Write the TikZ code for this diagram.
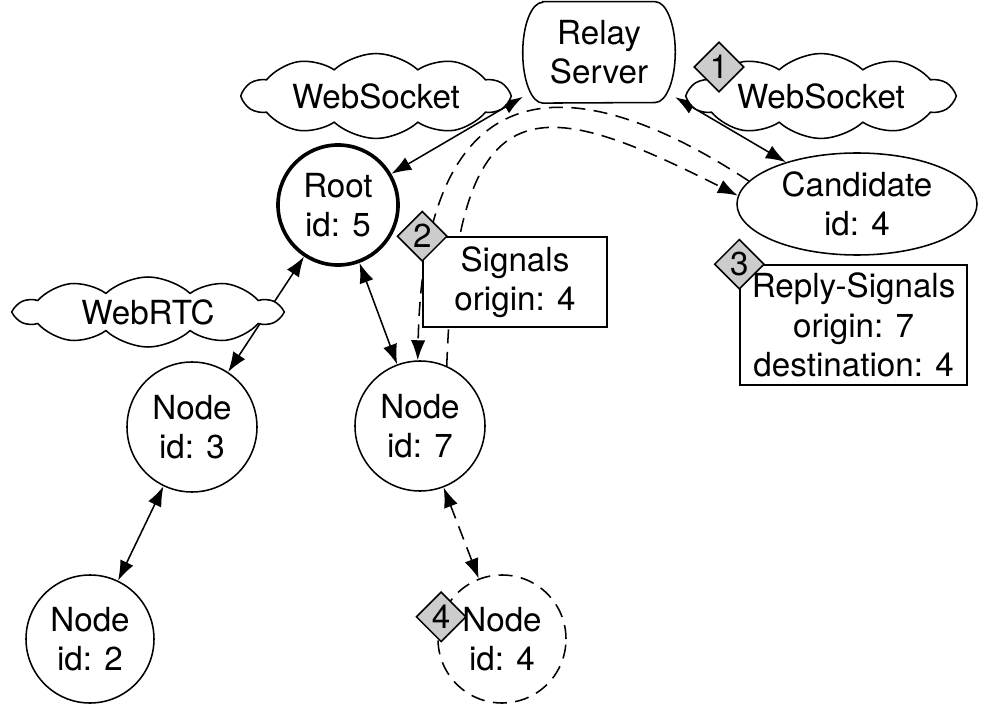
\documentclass[tikz,border=0pt]{standalone}
\usepackage{fontspec}
\setmainfont{TeX Gyre Heros}
\usetikzlibrary{positioning, arrows.meta, shapes.geometric, shapes.symbols}

\begin{document}
\begin{tikzpicture}[
  txt/.style={font=\fontsize{23.6}{28}\selectfont, align=center},
  peer/.style={circle, draw=black, line width=1.1pt, minimum size=3.25cm,
               inner sep=0pt, txt},
  rootpeer/.style={peer, line width=2.6pt, minimum size=3cm},
  newpeer/.style={peer, dashed, dash pattern=on 10pt off 6pt},
  relaybox/.style={rectangle, minimum width=3.8cm, minimum height=2.52cm,
                   inner sep=2pt, txt},
  relayedge/.style={line width=1.1pt},
  candpeer/.style={ellipse, draw=black, line width=1.1pt, minimum width=6cm,
                   minimum height=2.55cm, inner sep=0pt, txt},
  channel/.style={cloud, cloud puffs=10, cloud puff arc=85, aspect=4,
                  draw=black, fill=white, line width=1.1pt, minimum width=6.6cm,
                  minimum height=1.75cm, inner sep=0pt, txt},
  msgbox/.style={rectangle, draw=black, fill=white, line width=1.1pt,
                 inner sep=2pt, txt},
  stepmark/.style={diamond, draw=black, fill=black!20, line width=1.1pt,
                   minimum size=1.25cm, inner sep=0pt, txt},
  peerlink/.style={{Latex[length=5mm,width=3.6mm]}-{Latex[length=5mm,width=3.6mm]},
                   line width=1.1pt},
  newlink/.style={peerlink, dash pattern=on 10pt off 6pt},
  sigflow/.style={-{Latex[length=5mm,width=3.6mm]}, line width=1.1pt,
                  dash pattern=on 10pt off 6pt}
]
\useasboundingbox (0,0) rectangle (24.7,-17.675);

% -------- NOS --------
\node[relaybox] (relay) at (14.975,-1.31) {Relay\\Server};
\draw[relayedge] ([xshift=0.5cm]relay.north west) -- ([xshift=-0.5cm]relay.north east)
  arc[start angle=90, end angle=-90, x radius=0.5cm, y radius=1.26cm]
  -- ([xshift=0.5cm]relay.south west)
  arc[start angle=270, end angle=90, x radius=0.5cm, y radius=1.26cm] -- cycle;
\node[rootpeer] (root) at (8.45,-5.125) {Root\\id: 5};
\node[candpeer] (cand) at (21.425,-5.1) {Candidate\\id: 4};
\node[peer] (n3) at (4.8,-10.675) {Node\\id: 3};
\node[peer] (n7) at (10.5,-10.65) {Node\\id: 7};
\node[peer, minimum size=3.2cm] (n2) at (2.25,-15.975) {Node\\id: 2};
\node[newpeer, minimum size=3.2cm] (n4) at (12.55,-15.975) {Node\\id: 4};

% Ligacoes
\draw[peerlink] (relay) -- (root);
\draw[peerlink] (relay) -- (cand);
\draw[peerlink] (root) -- (n3);
\draw[peerlink] (root) -- (n7);
\draw[peerlink] (n3) -- (n2);
\draw[newlink] (n7) -- (n4);

% Sinais via relay
\draw[sigflow] (cand.168) .. controls +(-3.8,2.5) and +(0.175,8.0) .. (n7.92);
\draw[sigflow] (n7.66) .. controls +(0.25,7.05) and +(-5.125,2.6) .. (cand.176);

% -------- CANAIS --------
\node[channel] (wsl) at (9.4,-2.4) {WebSocket};
\node[channel] (wsr) at (20.525,-2.4) {WebSocket};
\node[channel] (rtc) at (3.7,-7.8) {WebRTC};

% -------- MENSAGENS --------
\node[msgbox, minimum width=4.6cm, minimum height=2.25cm] (sig) at (12.875,-7.05) {Signals\\origin: 4};
\node[msgbox, minimum width=5.675cm, minimum height=3cm] (reply) at (21.34,-8.125) {Reply-Signals\\origin: 7\\destination: 4};

% Passos
\node[stepmark] (d1) at (17.975,-1.675) {1};
\node[stepmark] (d2) at (sig.north west) {2};
\node[stepmark] (d3) at (reply.north west) {3};
\node[stepmark] (d4) at (n4.160) {4};

\end{tikzpicture}
\end{document}
